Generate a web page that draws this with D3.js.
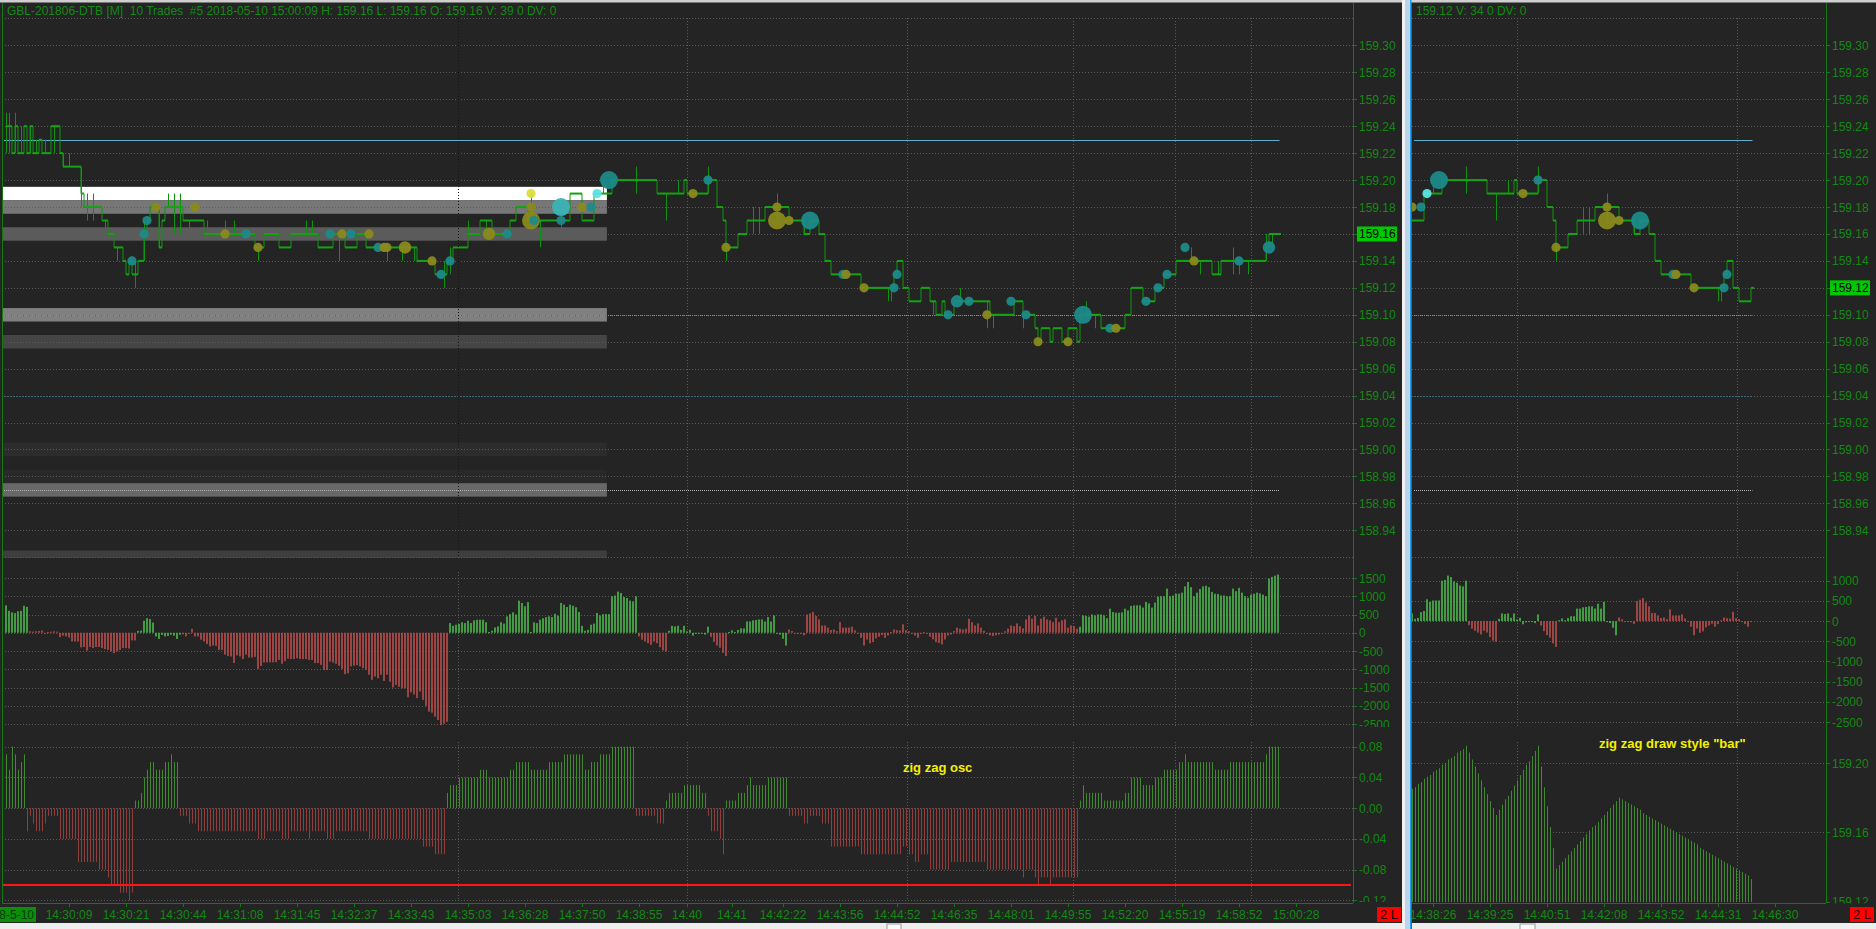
<!DOCTYPE html>
<html><head><meta charset="utf-8">
<script src="https://cdn.jsdelivr.net/npm/d3@7"></script>
<style>
html,body{margin:0;padding:0;background:#242424;overflow:hidden}
svg{display:block}
text{font-family:"Liberation Sans",Arial,sans-serif}
</style></head><body>
<svg id="c" width="1876" height="929"></svg>
<script>
// ================= DATA =================
const headerLeft = "GBL-201806-DTB [M]  10 Trades  #5 2018-05-10 15:00:09 H: 159.16 L: 159.16 O: 159.16 V: 39 0 DV: 0";
const headerRight = "159.12 V: 34 0 DV: 0";
const priceTickValues = [159.30,159.28,159.26,159.24,159.22,159.20,159.18,159.16,159.14,159.12,159.10,159.08,159.06,159.04,159.02,159.00,158.98,158.96,158.94];
const priceGridExtra = [159.32,158.92];
const deltaTicksLeft = [1500,1000,500,0,-500,-1000,-1500,-2000,-2500];
const deltaTicksRight = [1000,500,0,-500,-1000,-1500,-2000,-2500];
const oscTicks = [0.08,0.04,0.00,-0.04,-0.08,-0.12];
const zigzagTicks = [159.20,159.16,159.12];
const timeTicksLeftBar = [21,40,59,78,97,116,135,154,173,192,211,227,242,259,278,297,316,335,354,373,392,411,430];
const timeTicksLeftLabel = ["14:30:09","14:30:21","14:30:44","14:31:08","14:31:45","14:32:37","14:33:43","14:35:03","14:36:28","14:37:50","14:38:55","14:40","14:41","14:42:22","14:43:56","14:44:52","14:46:35","14:48:01","14:49:55","14:52:20","14:55:19","14:58:52","15:00:28"];
const timeTicksRightBar = [199,218,237,256,275,294,313];
const timeTicksRightLabel = ["14:38:26","14:39:25","14:40:51","14:42:08","14:43:52","14:44:31","14:46:30"];
const dateLabel = "8-5-10";
const fiveMinuteBars = [150.7,227,300.3,355.7,389.7,415];
// close price, run length (bars)
const priceSteps = [
[159.24,2],[159.22,1],[159.24,1],[159.22,2],[159.24,1],[159.22,1],[159.24,1],[159.22,2],[159.23,1],[159.22,3],[159.24,3],[159.22,1],[159.21,6],[159.19,1],[159.18,6],[159.17,2],[159.16,2],[159.15,3],[159.14,1],[159.13,1],[159.14,1],[159.13,2],[159.14,2],[159.16,1],[159.17,1],[159.18,3],[159.15,1],[159.17,1],[159.18,6],[159.17,7],[159.16,17],[159.15,3],[159.16,5],[159.15,4],[159.16,9],[159.15,5],[159.16,4],[159.15,4],[159.16,3],[159.15,17],[159.14,6],[159.13,4],[159.14,2],[159.15,5],[159.16,4],[159.17,4],[159.16,6],[159.17,2],[159.18,4],[159.17,14],[159.19,4],[159.17,4],[159.19,6],[159.20,15],[159.19,9],[159.20,1],[159.19,7],[159.20,3],[159.18,2],[159.17,1],[159.15,4],[159.16,3],[159.17,6],[159.18,8],[159.17,5],[159.16,2],[159.17,3],[159.16,2],[159.14,2],[159.13,10],[159.12,11],[159.13,1],[159.14,2],[159.12,2],[159.11,4],[159.12,3],[159.11,2],[159.10,2],[159.11,1],[159.10,3],[159.11,12],[159.10,8],[159.11,3],[159.10,4],[159.09,1],[159.08,1],[159.09,3],[159.08,1],[159.09,3],[159.08,2],[159.09,3],[159.08,1],[159.10,7],[159.09,8],[159.10,2],[159.12,4],[159.11,4],[159.12,3],[159.13,4],[159.14,12],[159.13,3],[159.14,15],[159.15,1],[159.16,4]
];
// bar, low, high
const wicks = [
[0,159.22,159.25],[1,159.22,159.25],[3,159.22,159.25],[5,159.22,159.24],[8,159.22,159.24],[10,159.22,159.23],[13,159.22,159.23],[16,159.22,159.24],[19,159.21,159.22],[21,159.21,159.22],[25,159.18,159.21],[27,159.17,159.19],[29,159.17,159.19],[33,159.16,159.17],[37,159.14,159.15],[43,159.12,159.14],[46,159.14,159.17],[51,159.15,159.18],[54,159.18,159.19],[56,159.16,159.19],[58,159.16,159.19],[61,159.16,159.17],[67,159.16,159.17],[73,159.16,159.17],[76,159.16,159.17],[84,159.14,159.15],[100,159.16,159.17],[102,159.16,159.17],[111,159.14,159.16],[127,159.14,159.15],[132,159.14,159.15],[136,159.14,159.15],[146,159.12,159.14],[148,159.13,159.15],[154,159.16,159.17],[160,159.16,159.17],[175,159.17,159.19],[178,159.15,159.17],[185,159.16,159.18],[199,159.19,159.20],[210,159.19,159.21],[220,159.17,159.19],[224,159.19,159.20],[234,159.19,159.21],[240,159.14,159.15],[249,159.16,159.18],[251,159.16,159.18],[257,159.17,159.19],[266,159.16,159.17],[294,159.11,159.12],[295,159.11,159.12],[309,159.10,159.11],[318,159.11,159.12],[327,159.09,159.11],[329,159.09,159.10],[339,159.09,159.10],[360,159.10,159.11],[363,159.09,159.10],[395,159.14,159.15],[398,159.13,159.14],[404,159.13,159.14],[409,159.13,159.15],[411,159.13,159.14],[414,159.13,159.14],[420,159.14,159.16],[422,159.15,159.16]
];
// bar, price, size class, colour class
const dots = [
[42,159.14,"s","t"],[46,159.16,"s","t"],[47,159.17,"s","t"],[50,159.18,"s","y"],[63,159.18,"s","y"],[73,159.16,"s","y"],[80,159.16,"s","t"],[84,159.15,"s","y"],[108,159.16,"s","t"],[112,159.16,"s","y"],[115,159.16,"s","t"],[121,159.16,"s","y"],[124,159.15,"s","t"],[126,159.15,"s","y"],[127,159.15,"s","y"],[133,159.15,"m","y"],[142,159.14,"s","y"],[145,159.13,"s","t"],[148,159.14,"s","t"],[161,159.16,"m","y"],[167,159.16,"s","t"],[175,159.19,"s","Y"],[175,159.18,"s","y"],[175,159.17,"b","y"],[176,159.17,"s","t"],[185,159.18,"b","C"],[185,159.17,"s","t"],[192,159.18,"s","y"],[195,159.18,"s","t"],[197,159.19,"s","c"],[201,159.20,"b","t"],[229,159.19,"s","y"],[234,159.20,"s","t"],[240,159.15,"s","y"],[257,159.18,"s","y"],[257,159.17,"b","y"],[261,159.17,"s","y"],[268,159.17,"b","t"],[279,159.13,"s","t"],[280,159.13,"s","y"],[286,159.12,"s","y"],[296,159.12,"s","t"],[297,159.13,"s","t"],[314,159.10,"s","t"],[317,159.11,"m","t"],[321,159.11,"s","t"],[327,159.10,"s","y"],[335,159.11,"s","t"],[340,159.10,"s","t"],[344,159.08,"s","y"],[354,159.08,"s","y"],[359,159.10,"b","t"],[368,159.09,"s","t"],[370,159.09,"s","y"],[380,159.11,"s","t"],[384,159.12,"s","t"],[387,159.13,"s","t"],[393,159.15,"s","t"],[396,159.14,"s","y"],[411,159.14,"s","t"],[421,159.15,"m","t"]
];
// cumulative delta, one value per bar
const deltaValues = [
750,600,560,540,590,600,740,710,
40,30,40,50,60,0,20,30,40,30,
-120,-80,-100,-130,-240,-240,-240,-400,-390,-490,-390,-420,-390,-390,-420,-450,-470,-510,-560,-510,-470,-420,-420,-430,-210,-210,
50,60,330,400,375,280,
-100,-170,-60,-100,-90,-55,-80,-170,-55,
-45,-100,-20,110,
-100,-100,-190,-240,-310,-375,-350,-360,-470,-470,-600,-640,-650,-830,-620,-650,-720,-600,-680,-680,-660,-990,-910,-815,-810,-810,-810,-810,-745,-850,-780,-710,-720,-720,-700,-720,-720,-720,-745,-745,-830,-830,-880,-1020,-1020,-790,-815,-850,-910,-990,-1135,-1110,-920,-900,-890,-920,-970,-1010,-1150,-1290,-1200,-1245,-1150,-1320,-1150,-1340,-1500,-1430,-1480,-1520,-1520,-1770,-1630,-1690,-1790,-1610,-1840,-2000,-2160,-2190,-2300,-2390,-2530,-2490,-2440,
265,190,220,240,290,265,330,265,340,357,357,357,290,20,55,145,175,290,250,450,510,560,500,880,815,725,840,20,285,265,357,400,430,450,430,520,470,815,770,705,770,740,700,570,190,55,80,220,250,540,475,510,510,510,1000,1020,1127,1090,980,950,880,860,1000,
-100,-190,-240,-285,-330,-240,-285,-395,-485,-510,
55,190,175,190,80,190,40,80,-80,-30,-20,-20,-50,165,
-110,-250,-350,-410,-550,-640,
20,65,20,75,120,120,310,310,340,350,365,365,310,430,310,475,
-20,-50,-165,-350,
90,45,-20,0,-30,-70,500,530,570,460,365,200,200,140,75,90,
45,290,140,140,140,165,65,-20,
-140,-350,-185,-290,-255,-155,-110,-65,-140,-75,
20,90,70,60,230,
70,45,0,-75,-140,-20,15,-20,-110,-180,-260,-280,-320,-185,-75,-45,45,
140,110,90,110,385,290,200,255,140,55,
-20,-70,-90,-70,-45,-20,40,
110,200,180,255,180,120,365,475,385,460,200,385,440,365,340,290,410,290,340,365,140,200,180,110,
165,475,460,440,500,475,500,500,475,400,660,570,550,550,560,660,615,735,750,750,750,690,845,805,690,825,990,1000,1000,1210,1000,1020,1070,1070,1100,1270,1390,1250,1000,1100,1200,1270,1290,1250,1120,1070,1060,1020,1020,1000,1000,1210,1140,1230,1100,1000,960,1045,1070,1100,1080,1045,1000,1485,1530,1565,1595
];
// colour of the delta bars: [g|r, run length]
const deltaColorRuns = [["g",8],["r",36],["g",15],["r",89],["g",63],["r",10],["g",14],["r",6],["g",20],["r",97],["g",67]];
// zig zag oscillator in hundredths, run length
const oscRuns = [
[7,1],[5,1],[8,1],[7,1],[5,1],[6,1],[7,1],
[-3,1],[-1,1],[-2,1],[-3,3],[-2,1],[-1,4],[-4,6],[-7,7],[-8,3],[-9,1],[-10,3],[-11,3],[-12,1],[-11,1],
[1,2],[2,1],[4,1],[5,1],[6,2],[5,3],[6,2],[7,1],[6,2],
[-1,3],[-2,3],[-3,20],[-4,3],[-3,5],[-4,3],[-3,6],[-4,1],[-3,5],[-4,3],[-3,11],[-4,18],[-5,4],[-6,4],
[2,1],[3,3],[4,7],[5,3],[4,7],[5,2],[6,5],[5,6],[6,5],[7,7],[5,2],[6,3],[7,4],[8,8],
[-1,7],[-2,3],
[1,1],[2,5],[3,6],[2,2],
[-1,1],[-3,3],[-4,1],[-6,1],
[1,4],[2,3],[3,1],[4,1],[3,5],[4,7],
[-1,5],[-2,2],[-1,4],[-2,3],[-5,10],[-6,14],[-5,2],[-6,2],[-7,2],[-6,3],[-8,7],[-7,12],[-8,12],[-9,1],[-8,3],[-9,1],[-10,1],[-9,3],[-10,1],[-9,9],
[1,1],[3,1],[2,1],[2,5],[1,7],[2,2],[4,4],[3,4],[4,3],[5,5],[6,2],[7,1],[6,9],[5,5],[6,7],[6,5],[7,1],[8,4]
];
// right panel "zig zag draw style bar", bars 192..305
const zigzagFirstBar = 192;
const zigzagBarValues = [
159.185,159.186,159.188,159.189,159.191,159.192,159.193,159.195,159.196,159.197,159.199,159.200,159.202,159.203,159.204,159.206,159.207,159.208,159.210,
159.206,159.202,159.198,159.194,159.190,159.186,159.182,159.178,159.174,159.170,
159.173,159.176,159.179,159.181,159.184,159.187,159.190,159.193,159.196,159.199,159.201,159.204,159.207,159.210,
159.198,159.186,159.175,159.163,159.151,159.139,
159.141,159.143,159.145,159.147,159.149,159.151,159.153,159.155,159.157,159.159,159.161,159.163,159.164,159.166,159.168,159.170,159.172,159.174,159.176,159.178,159.180,
159.179,159.178,159.177,159.176,159.175,159.174,159.173,159.171,159.170,159.169,159.168,159.167,159.166,159.165,159.164,159.163,159.162,159.161,159.160,159.159,159.158,159.157,159.156,159.155,159.154,159.153,159.151,159.150,159.149,159.148,159.147,159.146,159.145,159.144,159.143,159.142,159.141,159.140,159.139,159.138,159.137,159.136,159.135,159.133
];
const levelPrices = [159.23,159.10,159.04,158.97];
const bandPrices = [159.19,159.18,159.16,159.10,159.08,159.00,158.98,158.97,158.92];
const bandIntensity = [1.0,0.38,0.25,0.42,0.15,0.037,0.023,0.31,0.12];
const bandEndBar = 200.3;
const lastPriceLeft = 159.16, lastPriceRight = 159.12;
const oscAlertLevel = -0.10;
const oscTitle = "zig zag osc";
const zigzagTitle = "zig zag draw style \"bar\"";
const cornerLabel = "2 L";

// ================= EXPANSION =================
const closes = []; priceSteps.forEach(([p,n]) => { for (let k=0;k<n;k++) closes.push(p); });
const deltaColors = []; deltaColorRuns.forEach(([c,n]) => { for (let k=0;k<n;k++) deltaColors.push(c); });
const oscValues = []; oscRuns.forEach(([v,n]) => { for (let k=0;k<n;k++) oscValues.push(v/100); });

// ================= STYLE =================
const svg = d3.select("#c");
const BG = "#242424", TXT = "#118a11", AXIS = "#137a13";
const GRID = "#5a5a5a";
const PRICE_LINE = "#13a313";
const dotColor = {t:"#1e8a8a", y:"#8a8a1e", Y:"#dcdc3c", C:"#3ab4b4", c:"#5ce4e4"};
const dotR = {s:4.6, m:6.2, b:9};
const DG = "#4dc24d", DR = "#c25250";   // delta
const OG = "#3d8b2d", OR = "#923c3c";   // oscillator
const yP = d3.scaleLinear().domain([158.94,159.30]).range([530.3,45.4]);
const yO = d3.scaleLinear().domain([-0.12,0.08]).range([900.4,746.7]);
const yZ = d3.scaleLinear().domain([159.12,159.20]).range([901.5,763]);
const PANE = {p:[3,558], d:[568,727], o:[738,902]};

svg.append("rect").attr("width",1876).attr("height",929).attr("fill",BG);

let clipN = 0;
function clip(x0,y0,x1,y1){
  const id = "cl"+(clipN++);
  svg.append("clipPath").attr("id",id).append("rect").attr("x",x0).attr("y",y0).attr("width",x1-x0).attr("height",y1-y0);
  return "url(#"+id+")";
}

function drawPanel(cfg){
  const {x, x0, x1, iMin, iMax, yD, dTicks, isLeft} = cfg;
  const bars = d3.range(iMin, iMax+1);
  const xEnd = x(iMax)+1.5;
  const g = svg.append("g");

  // ---------- price pane ----------
  const gp = g.append("g").attr("clip-path", clip(x0,PANE.p[0],x1,PANE.p[1]));
  if (isLeft){
    const gray = d3.interpolateRgb(BG,"#ffffff");
    gp.selectAll(".band").data(bandPrices).join("rect")
      .attr("x",x0+1).attr("width",x(bandEndBar)-x0-1)
      .attr("y",p=>yP(p+0.005)).attr("height",p=>yP(p-0.005)-yP(p+0.005))
      .attr("fill",(p,k)=>gray(bandIntensity[k]));
  }
  gp.selectAll(".hg").data(priceTickValues.concat(priceGridExtra)).join("line")
    .attr("x1",x0).attr("x2",x1).attr("y1",p=>Math.round(yP(p))+0.5).attr("y2",p=>Math.round(yP(p))+0.5)
    .attr("stroke",GRID).attr("stroke-dasharray","1,2");
  const vg = fiveMinuteBars.filter(b=>x(b)>x0 && x(b)<x1);
  [["p",18],["d",572],["o",742]].forEach(([k,top])=>{
    g.append("g").selectAll("line").data(vg).join("line")
      .attr("x1",b=>Math.round(x(b))+0.5).attr("x2",b=>Math.round(x(b))+0.5)
      .attr("y1",top).attr("y2",PANE[k][1]-1)
      .attr("stroke",(b,i)=> (isLeft && i===0 && k==="p") ? "#141414" : GRID).attr("stroke-dasharray","1,2");
  });
  // level lines
  const lvStyle = [
    {c:"#5fb0d0", w:1, d:null},
    {c:"#3aa8d8", w:1, d:"1,1"},
    {c:"#3b6a78", w:1, d:"2,1"},
    {c:"#b4b4b4", w:1, d:"1,1"}
  ];
  gp.selectAll(".lv").data(levelPrices).join("line")
    .attr("x1",x0+2).attr("x2",xEnd).attr("y1",p=>Math.round(yP(p))+0.5).attr("y2",p=>Math.round(yP(p))+0.5)
    .attr("stroke",(p,k)=>lvStyle[k].c).attr("stroke-width",(p,k)=>lvStyle[k].w)
    .attr("stroke-dasharray",(p,k)=>lvStyle[k].d);
  // wicks
  gp.selectAll(".wk").data(wicks.filter(w=>w[0]>=iMin && w[0]<=iMax)).join("line")
    .attr("x1",w=>Math.round(x(w[0]))+0.5).attr("x2",w=>Math.round(x(w[0]))+0.5)
    .attr("y1",w=>yP(w[1])).attr("y2",w=>yP(w[2]))
    .attr("stroke","#0e930e").attr("stroke-width",1);
  // step line
  const pts = bars.map(i=>[x(i), yP(closes[i])]);
  pts.push([x(iMax)+3, yP(closes[iMax])]);
  gp.append("path").attr("d", d3.line().curve(d3.curveStepAfter)(pts))
    .attr("fill","none").attr("stroke","#0f960f").attr("stroke-width",1);
  gp.selectAll(".hz").data(bars).join("line")
    .attr("x1",i=>x(i)).attr("x2",i=>x(i)+3)
    .attr("y1",i=>yP(closes[i])).attr("y2",i=>yP(closes[i]))
    .attr("stroke",PRICE_LINE).attr("stroke-width",2);
  // dots
  gp.selectAll(".dt").data(dots.filter(d=>d[0]>=iMin-1 && d[0]<=iMax)).join("circle")
    .attr("cx",d=>x(d[0])).attr("cy",d=>yP(d[1])).attr("r",d=>dotR[d[2]])
    .attr("fill",d=>dotColor[d[3]]).attr("opacity",0.95);

  // ---------- delta pane ----------
  const gd = g.append("g").attr("clip-path", clip(x0,PANE.d[0],x1,PANE.d[1]));
  gd.selectAll(".dg").data(dTicks).join("line")
    .attr("x1",x0).attr("x2",x1).attr("y1",v=>Math.round(yD(v))+0.5).attr("y2",v=>Math.round(yD(v))+0.5)
    .attr("stroke",GRID).attr("stroke-dasharray","1,2");
  gd.selectAll(".db").data(bars).join("rect")
    .attr("x",i=>x(i)-0.75).attr("width",1.5)
    .attr("y",i=>Math.min(yD(deltaValues[i]),yD(0)))
    .attr("height",i=>Math.max(1,Math.abs(yD(deltaValues[i])-yD(0))))
    .attr("fill",i=>deltaColors[i]==="g"?DG:DR);

  // ---------- lower pane ----------
  const go = g.append("g").attr("clip-path", clip(x0,PANE.o[0],x1,PANE.o[1]));
  if (isLeft){
    go.selectAll(".og").data(oscTicks).join("line")
      .attr("x1",x0).attr("x2",x1).attr("y1",v=>Math.round(yO(v))+0.5).attr("y2",v=>Math.round(yO(v))+0.5)
      .attr("stroke",GRID).attr("stroke-dasharray","1,2");
    go.selectAll(".ob").data(bars).join("line")
      .attr("x1",i=>Math.round(x(i))+0.5).attr("x2",i=>Math.round(x(i))+0.5)
      .attr("y1",yO(0)).attr("y2",i=>yO(oscValues[i]))
      .attr("stroke",i=>oscValues[i]>=0?OG:OR).attr("stroke-width",1);
    go.append("line").attr("x1",x0).attr("x2",x1-2).attr("y1",yO(oscAlertLevel)).attr("y2",yO(oscAlertLevel))
      .attr("stroke","#ff1515").attr("stroke-width",2);
    g.append("text").attr("x",903).attr("y",772).attr("fill","#f2f200")
      .attr("font-size",13).attr("font-weight","bold").text(oscTitle);
  } else {
    go.selectAll(".zg").data(zigzagTicks).join("line")
      .attr("x1",x0).attr("x2",x1).attr("y1",v=>Math.round(yZ(v))+0.5).attr("y2",v=>Math.round(yZ(v))+0.5)
      .attr("stroke",GRID).attr("stroke-dasharray","1,2");
    go.selectAll(".zb").data(zigzagBarValues).join("line")
      .attr("x1",(v,k)=>Math.round(x(zigzagFirstBar+k))+0.5).attr("x2",(v,k)=>Math.round(x(zigzagFirstBar+k))+0.5)
      .attr("y1",904).attr("y2",v=>yZ(v))
      .attr("stroke",OG).attr("stroke-width",1);
    g.append("text").attr("x",1599).attr("y",748).attr("fill","#f2f200")
      .attr("font-size",13).attr("font-weight","bold").text(zigzagTitle);
  }

  // ---------- axes ----------
  g.append("line").attr("x1",x1+0.5).attr("x2",x1+0.5).attr("y1",3).attr("y2",903).attr("stroke",AXIS);
  g.append("line").attr("x1",x0).attr("x2",x1).attr("y1",903.5).attr("y2",903.5).attr("stroke",AXIS);
  if (isLeft) g.append("line").attr("x1",x0+0.5).attr("x2",x0+0.5).attr("y1",3).attr("y2",903).attr("stroke",AXIS);
  const axisBlock = (key, ticks, scale, fmt, bottomPad) => {
    const ga = g.append("g").attr("clip-path", clip(x1,PANE[key][0],x1+52,PANE[key][1]+bottomPad));
    ga.selectAll("line").data(ticks).join("line")
      .attr("x1",x1).attr("x2",x1+4).attr("y1",v=>Math.round(scale(v))+0.5).attr("y2",v=>Math.round(scale(v))+0.5)
      .attr("stroke",AXIS);
    ga.selectAll("text").data(ticks).join("text")
      .attr("x",x1+6).attr("y",v=>scale(v)+4.5).attr("fill",TXT).attr("font-size",12).text(fmt);
  };
  axisBlock("p", priceTickValues, yP, v=>v.toFixed(2), 0);
  axisBlock("d", dTicks, yD, v=>String(v), 0);
  if (isLeft) axisBlock("o", oscTicks, yO, v=>v.toFixed(2), 0);
  else axisBlock("o", zigzagTicks, yZ, v=>v.toFixed(2), 1.5);
  // last price marker
  const lp = isLeft ? lastPriceLeft : lastPriceRight;
  g.append("rect").attr("x",x1+4).attr("y",yP(lp)-7.5).attr("width",40).attr("height",15).attr("fill","#00c800");
  g.append("text").attr("x",x1+6).attr("y",yP(lp)+4.5).attr("fill","#000").attr("font-size",12).text(lp.toFixed(2));
  // time axis
  const tb = isLeft ? timeTicksLeftBar : timeTicksRightBar;
  const tl = isLeft ? timeTicksLeftLabel : timeTicksRightLabel;
  const gt = g.append("g").attr("clip-path", clip(x0,903,x1+10,923));
  gt.selectAll("line").data(tb).join("line")
    .attr("x1",b=>Math.round(x(b))+0.5).attr("x2",b=>Math.round(x(b))+0.5).attr("y1",903).attr("y2",907).attr("stroke",AXIS);
  gt.selectAll("text").data(tb).join("text")
    .attr("x",b=>x(b)).attr("y",918.5).attr("text-anchor","middle").attr("fill",TXT).attr("font-size",12)
    .text((b,k)=>tl[k]);
  if (isLeft){
    g.append("rect").attr("x",0).attr("y",907).attr("width",36).attr("height",15).attr("fill","#0b8f0b");
    g.append("text").attr("x",34).attr("y",918.5).attr("text-anchor","end").attr("fill","#053a05").attr("font-size",12).text(dateLabel);
  }
  // corner label
  g.append("rect").attr("x",x1+24).attr("y",907).attr("width",24).attr("height",15).attr("fill","#ff0000");
  g.append("text").attr("x",x1+36).attr("y",919).attr("text-anchor","middle").attr("fill","#2a0000").attr("font-size",13).text(cornerLabel);
  // header
  g.append("text").attr("x",isLeft?7:1416).attr("y",15).attr("fill",TXT).attr("font-size",12)
    .attr("xml:space","preserve").style("white-space","pre").text(isLeft?headerLeft:headerRight);
}

drawPanel({x:d3.scaleLinear().domain([0,424]).range([6,1278]), x0:2, x1:1353, iMin:0, iMax:424,
  yD:d3.scaleLinear().domain([-2500,1500]).range([724,578]), dTicks:deltaTicksLeft, isLeft:true});
drawPanel({x:d3.scaleLinear().domain([192,305]).range([1412,1751]), x0:1412, x1:1826, iMin:192, iMax:305,
  yD:d3.scaleLinear().domain([-2500,1000]).range([722,580.7]), dTicks:deltaTicksRight, isLeft:false});

// window chrome
svg.append("rect").attr("x",0).attr("y",0).attr("width",1876).attr("height",2.5).attr("fill","#cfcfcf");
svg.append("rect").attr("x",1402).attr("y",0).attr("width",3).attr("height",929).attr("fill","#f2f2f2");
svg.append("rect").attr("x",1405).attr("y",0).attr("width",5).attr("height",929).attr("fill","#bcd4ee");
svg.append("rect").attr("x",1410).attr("y",0).attr("width",1.6).attr("height",929).attr("fill","#22a2ee");
svg.append("rect").attr("x",0).attr("y",923).attr("width",1402).attr("height",6).attr("fill","#eeeeee");
svg.append("rect").attr("x",1412).attr("y",923).attr("width",464).attr("height",6).attr("fill","#eeeeee");
svg.append("rect").attr("x",887).attr("y",924).attr("width",14).attr("height",6).attr("fill","#fafafa").attr("stroke","#9a9a9a");
svg.append("rect").attr("x",1520).attr("y",924).attr("width",15).attr("height",6).attr("fill","#fafafa").attr("stroke","#9a9a9a");
</script>
</body></html>
